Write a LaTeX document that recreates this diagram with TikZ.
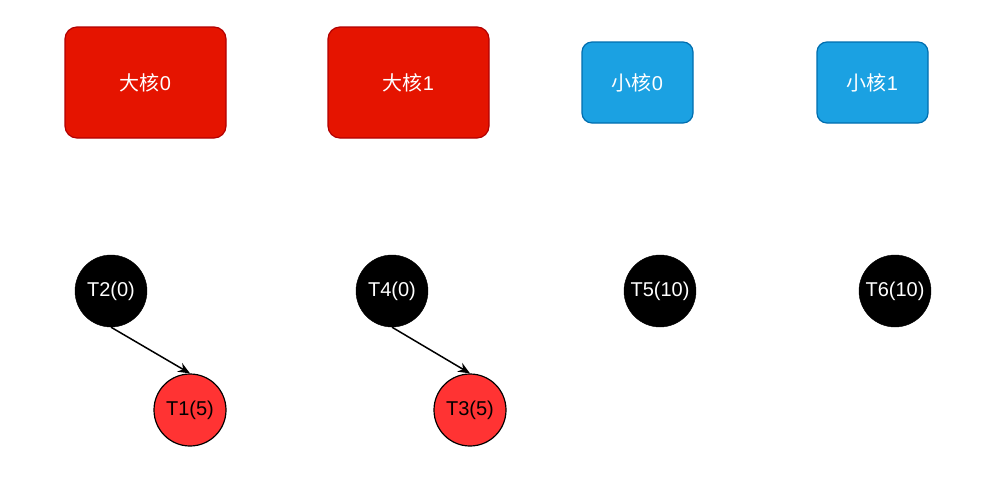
\documentclass[tikz,border=0pt]{standalone}
\usepackage{fontspec}
\setmainfont{Liberation Sans}
\newfontfamily\cjk{Noto Sans CJK SC}
\usetikzlibrary{arrows.meta}
\definecolor{bigf}{HTML}{E51400}\definecolor{bigd}{HTML}{B20000}
\definecolor{smf}{HTML}{1BA1E2}\definecolor{smd}{HTML}{006EAF}
\definecolor{tred}{HTML}{FF3333}
\begin{document}
\begin{tikzpicture}[x=1pt,y=-1pt,
 big/.style={draw=bigd,fill=bigf,rounded corners=12pt,minimum width=161pt,minimum height=111pt,text=white,font=\fontsize{20}{24}\selectfont,line width=1.2pt},
 small/.style={draw=smd,fill=smf,rounded corners=10pt,minimum width=111pt,minimum height=81pt,text=white,font=\fontsize{20}{24}\selectfont,line width=1.2pt},
 blk/.style={circle,fill=black,draw=black,minimum size=72pt,inner sep=0pt,text=white,font=\fontsize{20}{24}\selectfont},
 rd/.style={circle,fill=tred,draw=black,line width=1.2pt,minimum size=72pt,inner sep=0pt,text=black,font=\fontsize{20}{24}\selectfont},
 arr/.style={-{Stealth[length=12pt,width=10pt,inset=4pt]},line width=1.5pt}]
\useasboundingbox (0,0) rectangle (1005,483);
\node[big] (b0) at (145.5,82.5) {{\cjk 大核}0};
\node[big] (b1) at (408.5,82.5) {{\cjk 大核}1};
\node[small] (s0) at (637.5,82.5) {{\cjk 小核}0};
\node[small] (s1) at (872.5,82.5) {{\cjk 小核}1};
\node[blk] (t2) at (111,291) {T2(0)};
\node[blk] (t4) at (392,291) {T4(0)};
\node[blk] (t5) at (660,291) {T5(10)};
\node[blk] (t6) at (895,291) {T6(10)};
\node[rd] (t1) at (190,410) {T1(5)};
\node[rd] (t3) at (470,410) {T3(5)};
\draw[arr] (t2.south) -- (t1.north);
\draw[arr] (t4.south) -- (t3.north);
\end{tikzpicture}
\end{document}
